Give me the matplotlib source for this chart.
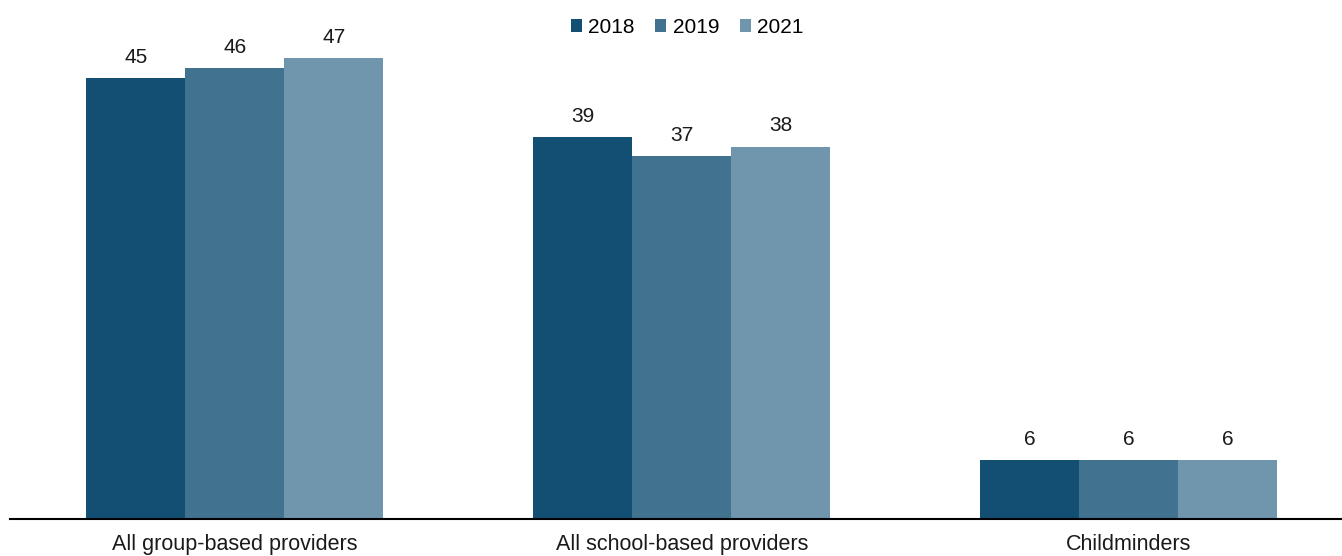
import numpy as np
import matplotlib.pyplot as plt

plt.rcParams['font.family'] = ['Liberation Sans', 'DejaVu Sans']

# datos
categorias = ["All group-based providers", "All school-based providers", "Childminders"]
anios = ["2018", "2019", "2021"]
valores_2018 = [45, 39, 6]
valores_2019 = [46, 37, 6]
valores_2021 = [47, 38, 6]

colores = ['#124f73', '#417390', '#7096ae']
series = [valores_2018, valores_2019, valores_2021]

fig = plt.figure(figsize=(13.42, 5.56), dpi=100)
ax = fig.add_axes([10 / 1342, 37 / 556, 1332 / 1342, 519 / 556])

x = np.arange(len(categorias))
ancho = 0.2215

for i, (vals, anio, color) in enumerate(zip(series, anios, colores)):
    pos = x + (i - 1) * ancho
    ax.bar(pos, vals, width=ancho, color=color, label=anio)
    for xb, v in zip(pos, vals):
        ax.annotate(f"{v}", (xb, v), xytext=(0, 8), textcoords='offset points',
                    ha='center', va='bottom', fontsize=15, color='#1a1a1a')

ax.set_xlim(-0.503, 2.477)
ax.set_ylim(0, 52.96)
ax.set_xticks(x)
ax.set_xticklabels(categorias, fontsize=15.5, color='#1a1a1a')
ax.tick_params(axis='x', length=0, pad=10.5)
ax.set_yticks([])
for lado in ['top', 'right', 'left']:
    ax.spines[lado].set_visible(False)
ax.spines['bottom'].set_linewidth(1.5)
ax.spines['bottom'].set_color('black')

ax.legend(ncol=3, frameon=False, loc='center', bbox_to_anchor=(0.512, 0.951),
          bbox_transform=fig.transFigure, fontsize=15, handlelength=0.53,
          handleheight=0.53, handletextpad=0.3, columnspacing=1.0)

fig.savefig("out.png", dpi=100)
